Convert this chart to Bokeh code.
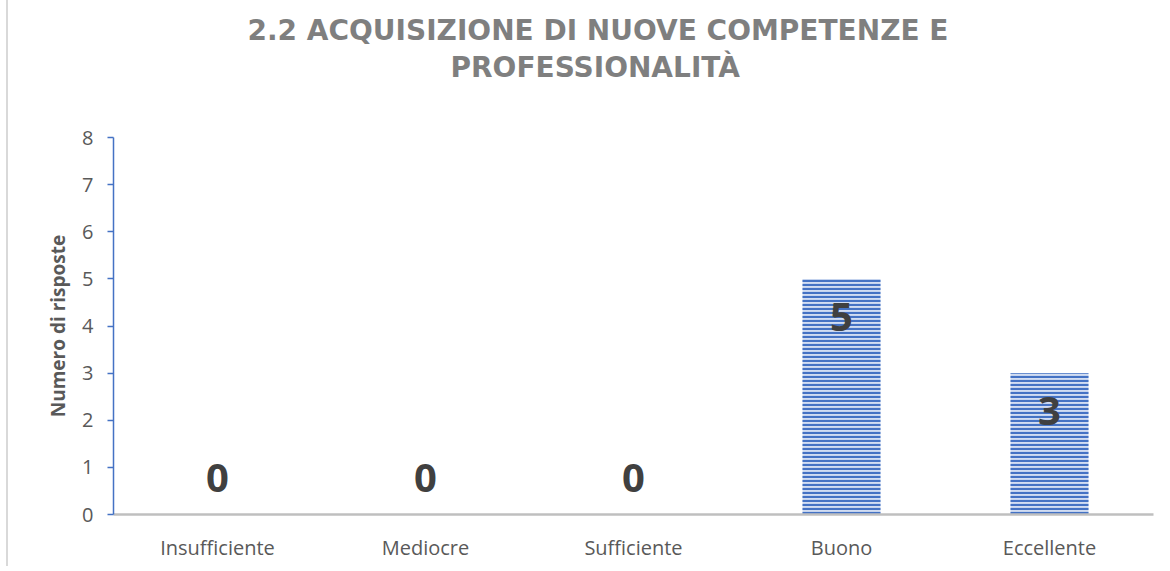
from bokeh.plotting import figure
from bokeh.models import ColumnDataSource, FactorRange, Range1d, Title, FixedTicker
from bokeh.core.properties import value
from bokeh.embed import file_html
from bokeh.resources import INLINE

categories = ["Insufficiente", "Mediocre", "Sufficiente", "Buono", "Eccellente"]
risposte = [0, 0, 0, 5, 3]
y_ticks = [0, 1, 2, 3, 4, 5, 6, 7, 8]
title_lines = ["2.2 ACQUISIZIONE DI NUOVE COMPETENZE E", "PROFESSIONALITÀ"]
y_label = "Numero di risposte"

FONT = "Open Sans"
TFONT = "DejaVu Sans"

src = ColumnDataSource(dict(cat=categories, val=risposte))
pos = ColumnDataSource(dict(
    cat=[c for c, v in zip(categories, risposte) if v > 0],
    val=[v for v in risposte if v > 0],
    lab=[str(v) for v in risposte if v > 0]))
zero = ColumnDataSource(dict(
    cat=[c for c, v in zip(categories, risposte) if v == 0],
    val=[v for v in risposte if v == 0],
    lab=[str(v) for v in risposte if v == 0]))

p = figure(x_range=FactorRange(*categories, range_padding=0),
           y_range=Range1d(0, 8),
           width=1160, height=572,
           output_backend="svg", toolbar_location=None,
           min_border_left=105, min_border_right=15,
           min_border_top=143, min_border_bottom=52)

t2 = Title(text=title_lines[1], align="left", offset=337, text_font=TFONT,
           text_font_size="28px", text_font_style="bold", text_color="#7f7f7f",
           standoff=108)
t1 = Title(text=title_lines[0], align="left", offset=134, text_font=TFONT,
           text_font_size="28px", text_font_style="bold", text_color="#7f7f7f",
           standoff=-104)
p.add_layout(t2, "above")
p.add_layout(t1, "above")

p.vbar(x="cat", top="val", width=0.375, source=src,
       fill_color="#d2ddf2", line_color=None,
       hatch_pattern="horizontal_line", hatch_color="#4472C4",
       hatch_scale=4, hatch_weight=2.2)

for s, off in ((pos, 38), (zero, -37)):
    p.text(x="cat", y="val", text="lab", source=s, y_offset=off,
           text_align="center", text_baseline="middle",
           text_font=value(FONT), text_font_size="40px", text_font_style="bold",
           text_color="#404040")

p.xgrid.grid_line_color = None
p.ygrid.grid_line_color = None
p.outline_line_color = None

p.yaxis.ticker = FixedTicker(ticks=y_ticks)
p.yaxis.axis_line_color = "#4472C4"
p.yaxis.axis_line_width = 1.5
p.yaxis.major_tick_line_color = "#4472C4"
p.yaxis.major_tick_line_width = 1.5
p.yaxis.major_tick_out = 6
p.yaxis.major_tick_in = 0
p.yaxis.minor_tick_line_color = None
p.yaxis.major_label_text_font = FONT
p.yaxis.major_label_text_font_size = "20px"
p.yaxis.major_label_text_color = "#595959"
p.yaxis.major_label_standoff = 14
p.yaxis.axis_label = y_label
p.yaxis.axis_label_text_font = FONT
p.yaxis.axis_label_text_font_size = "19px"
p.yaxis.axis_label_text_font_style = "bold"
p.yaxis.axis_label_text_color = "#595959"
p.yaxis.axis_label_standoff = 8

p.xaxis.axis_line_color = "#bfbfbf"
p.xaxis.axis_line_width = 2.5
p.xaxis.major_tick_line_color = None
p.xaxis.minor_tick_line_color = None
p.xaxis.major_label_text_font = FONT
p.xaxis.major_label_text_font_size = "20px"
p.xaxis.major_label_text_color = "#595959"
p.xaxis.major_label_standoff = 13

p.styles = {"border-left": "2px solid #d9d9d9",
            "margin-left": "6px", "margin-top": "-6px"}

open("out.html", "w").write(file_html(p, INLINE))
